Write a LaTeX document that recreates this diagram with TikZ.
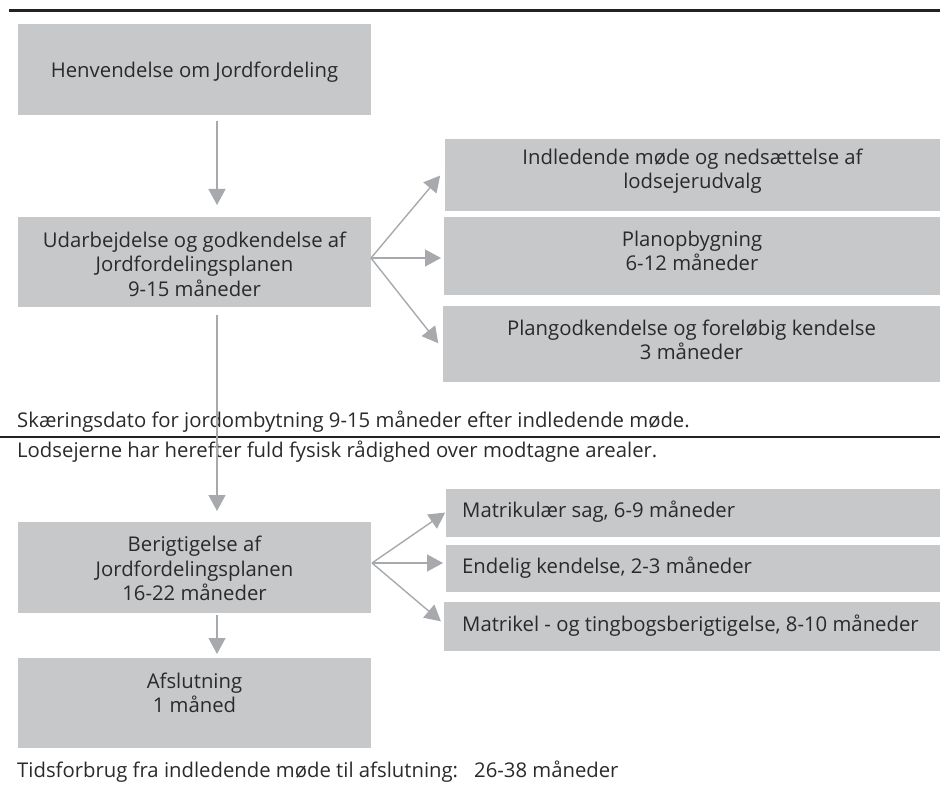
\documentclass[tikz,border=0pt]{standalone}
\usepackage{fontspec}
\setmainfont{Open Sans}
\usetikzlibrary{arrows.meta,calc}
\definecolor{boxgray}{HTML}{C7C8CA}
\definecolor{arrgray}{HTML}{A7A9AC}
\definecolor{txtcol}{HTML}{2A2A2A}
\definecolor{rulecol}{HTML}{222222}
\begin{document}
\begin{tikzpicture}[x=1pt,y=-1pt,
  box/.style={fill=boxgray,draw=none,inner sep=0pt,outer sep=0pt,anchor=north west},
  lbl/.style={text=txtcol,inner sep=0pt,align=center,font=\fontsize{20.3}{24.5}\selectfont},
  lbll/.style={text=txtcol,inner sep=0pt,anchor=west,font=\fontsize{20.3}{24.5}\selectfont},
  arr/.style={draw=arrgray,line width=1.4pt,-{Triangle[width=17pt,length=16pt]},arrgray},
]
\useasboundingbox (0,0) rectangle (940,791);
% rules
\draw[rulecol,line width=3pt] (9,11) -- (940,11);
\draw[rulecol,line width=1.1pt] (0,437) -- (940,437);
% left boxes
\node[box,minimum width=353pt,minimum height=91pt] (b1) at (18,24) {};
\node[box,minimum width=353pt,minimum height=90pt] (b2) at (18,217) {};
\node[box,minimum width=353pt,minimum height=91pt] (b3) at (18,522) {};
\node[box,minimum width=353pt,minimum height=90pt] (b4) at (18,658) {};
% right boxes
\node[box,minimum width=495pt,minimum height=72pt] (ra) at (445,139) {};
\node[box,minimum width=496pt,minimum height=78pt] (rb) at (444,217) {};
\node[box,minimum width=497pt,minimum height=76pt] (rc) at (443,306) {};
\node[box,minimum width=494pt,minimum height=48pt] (m1) at (446,489) {};
\node[box,minimum width=494pt,minimum height=47pt] (m2) at (446,545) {};
\node[box,minimum width=496pt,minimum height=49pt] (m3) at (444,602) {};
% labels
\node[lbl] (t1) at ($(b1.center)+(0,3)$) {Henvendelse om Jordfordeling};
\node[lbl] (t2) at ($(b2.center)+(0,2)$) {Udarbejdelse og godkendelse af\\Jordfordelingsplanen\\9-15 måneder};
\node[lbl] (t3) at ($(b3.center)+(0,1)$) {Berigtigelse af\\Jordfordelingsplanen\\16-22 måneder};
\node[lbl] (t4) at ($(b4.center)+(0,-10)$) {Afslutning\\1 måned};
\node[lbl] (ta) at ($(ra.center)+(0,-4)$) {Indledende møde og nedsættelse af\\lodsejerudvalg};
\node[lbl] (tb) at ($(rb.center)+(0,-5)$) {Planopbygning\\6-12 måneder};
\node[lbl] (tc) at ($(rc.center)+(0,-4)$) {Plangodkendelse og foreløbig kendelse\\3 måneder};
\node[lbll] (tm1) at (462,512) {Matrikulær sag, 6-9 måneder};
\node[lbll] (tm2) at (462,568) {Endelig kendelse, 2-3 måneder};
\node[lbll] (tm3) at (462,626) {Matrikel - og tingbogsberigtigelse, 8-10 måneder};
\node[lbll] (s1) at (17,422) {Skæringsdato for jordombytning 9-15 måneder efter indledende møde.};
\node[lbll] (s2) at (17,452) {Lodsejerne har herefter fuld fysisk rådighed over modtagne arealer.};
\node[lbll] (s3) at (17,772) {Tidsforbrug fra indledende møde til afslutning:\hspace{16pt}26-38 måneder};
% vertical arrows
\coordinate (ax) at (217,0);
\draw[arr,shorten <=6pt,shorten >=12pt] (b1.south -| ax) -- (b2.north -| ax);
\draw[arr,shorten <=8pt,shorten >=11pt] (b2.south -| ax) -- (b3.north -| ax);
\draw[arr,shorten <=2pt,shorten >=4pt] (b3.south -| ax) -- (b4.north -| ax);
% fans
\coordinate (f1) at (371,258);
\draw[arr,shorten >=6pt] (f1) -- ($(ra.south west)+(-1,-40)$);
\draw[arr,shorten >=3pt] (f1) -- (rb.west |- f1);
\draw[arr,shorten >=6pt] (f1) -- ($(rc.north west)+(-1,42)$);
\coordinate (f2) at (372,563);
\draw[arr,shorten >=1pt] (f2) -- ($(m1.south west)+(0,-25)$);
\draw[arr,shorten >=3pt] (f2) -- (m2.west |- f2);
\draw[arr,shorten >=4pt] (f2) -- ($(m3.north west)+(0,22)$);
\end{tikzpicture}
\end{document}
